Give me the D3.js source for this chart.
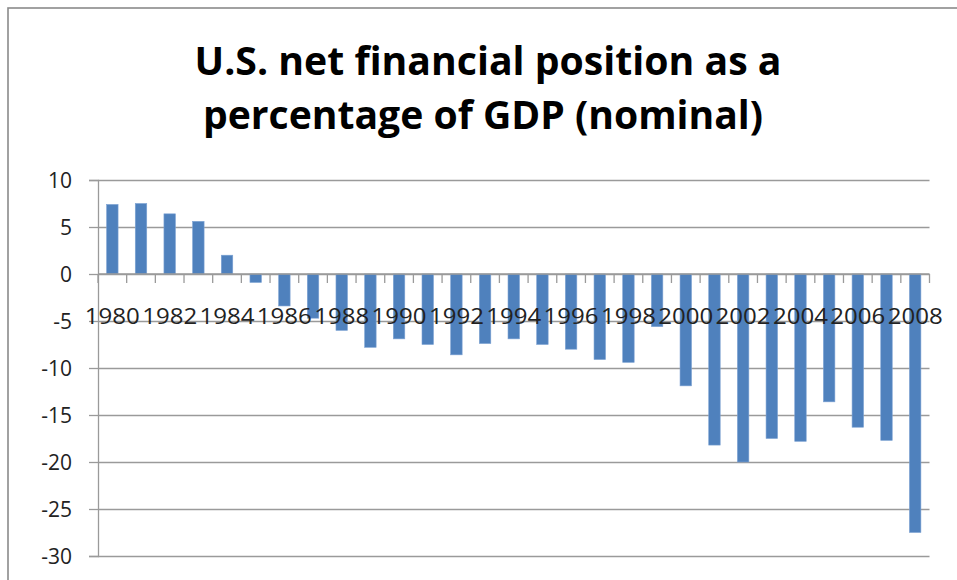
<!DOCTYPE html>
<html>
<head>
<meta charset="utf-8">
<script src="https://cdn.jsdelivr.net/npm/d3@7"></script>
<style>
  html, body { margin: 0; padding: 0; background: #fff; }
  svg { display: block; }
</style>
</head>
<body>
<svg id="chart" width="957" height="580"></svg>
<script>
// ---- data ----
const years = [1980,1981,1982,1983,1984,1985,1986,1987,1988,1989,1990,1991,1992,1993,1994,
               1995,1996,1997,1998,1999,2000,2001,2002,2003,2004,2005,2006,2007,2008];
const values = [7.4,7.5,6.4,5.6,2.0,-0.9,-3.4,-4.7,-6.0,-7.8,-6.9,-7.5,-8.6,-7.4,-6.9,
                -7.5,-8.0,-9.1,-9.4,-5.6,-11.9,-18.2,-20.0,-17.5,-17.8,-13.6,-16.3,-17.7,-27.5];
const yTicks = [10,5,0,-5,-10,-15,-20,-25,-30];
const xTickLabels = [1980,1982,1984,1986,1988,1990,1992,1994,1996,1998,2000,2002,2004,2006,2008];
const titleLines = ["U.S. net financial position as a", "percentage of GDP (nominal)"];

// ---- layout ----
const svg = d3.select("#chart");
const plot = {left: 98, right: 929.5, top: 180, bottom: 556};
const font = "'Open Sans', 'Noto Sans', sans-serif";

// outer frame
svg.append("rect")
  .attr("x", 8).attr("y", 8).attr("width", 980).attr("height", 600)
  .attr("fill", "#fff").attr("stroke", "#8a8a8a").attr("stroke-width", 1.6);

const x = d3.scaleBand().domain(years).range([plot.left, plot.right])
  .paddingInner(0.6).paddingOuter(0.3);
const y = d3.scaleLinear().domain([-30, 10]).range([plot.bottom, plot.top]);

// gridlines + y axis
const yAxis = d3.axisLeft(y).tickValues(yTicks).tickSize(plot.left - 89).tickFormat("");
const yg = svg.append("g").attr("transform", `translate(${plot.left},0)`).call(yAxis);
yg.select(".domain").attr("stroke", "#9a9a9a").attr("stroke-width", 1.3);
yg.selectAll(".tick line").attr("stroke", "#9a9a9a").attr("stroke-width", 1.3)
  .attr("x2", -(plot.left - 89)).clone().attr("x2", plot.right - plot.left);

// y labels
svg.append("g").selectAll("text").data(yTicks).join("text")
  .attr("x", 72).attr("y", d => y(d) + 7.5)
  .attr("text-anchor", "end")
  .attr("font-family", font).attr("font-size", 21).attr("fill", "#222")
  .text(d => d);

// bars
svg.append("g").selectAll("rect").data(years).join("rect")
  .attr("x", (d) => x(d))
  .attr("width", x.bandwidth())
  .attr("y", (d, i) => y(Math.max(0, values[i])))
  .attr("height", (d, i) => Math.abs(y(values[i]) - y(0)))
  .attr("fill", "#4f81bd")
  .attr("stroke", "#7da2d3").attr("stroke-width", 0.6);

// x axis at zero with boundary ticks
const step = x.step();
const boundaries = d3.range(years.length + 1).map(i => plot.left + i * step);
const xa = svg.append("g");
xa.append("line").attr("x1", plot.left).attr("x2", plot.right)
  .attr("y1", y(0)).attr("y2", y(0)).attr("stroke", "#9a9a9a").attr("stroke-width", 1.3);
xa.selectAll("line.tk").data(boundaries).join("line").attr("class", "tk")
  .attr("x1", d => d).attr("x2", d => d)
  .attr("y1", y(0)).attr("y2", y(0) + 9)
  .attr("stroke", "#9a9a9a").attr("stroke-width", 1.3);

// x labels (every other year)
svg.append("g").selectAll("text").data(xTickLabels).join("text")
  .attr("x", d => x(d) + x.bandwidth() / 2)
  .attr("y", 324)
  .attr("text-anchor", "middle")
  .attr("font-family", font).attr("font-size", 21).attr("fill", "#222")
  .attr("textLength", 55).attr("lengthAdjust", "spacingAndGlyphs")
  .text(d => d);

// title
const tl = [{t: titleLines[0], x: 488, y: 75, w: 587}, {t: titleLines[1], x: 483, y: 129, w: 560}];
svg.append("g").selectAll("text").data(tl).join("text")
  .attr("x", d => d.x).attr("y", d => d.y)
  .attr("text-anchor", "middle")
  .attr("font-family", font).attr("font-weight", "bold").attr("font-size", 39)
  .attr("fill", "#000")
  .attr("textLength", d => d.w).attr("lengthAdjust", "spacingAndGlyphs")
  .text(d => d.t);
</script>
</body>
</html>
